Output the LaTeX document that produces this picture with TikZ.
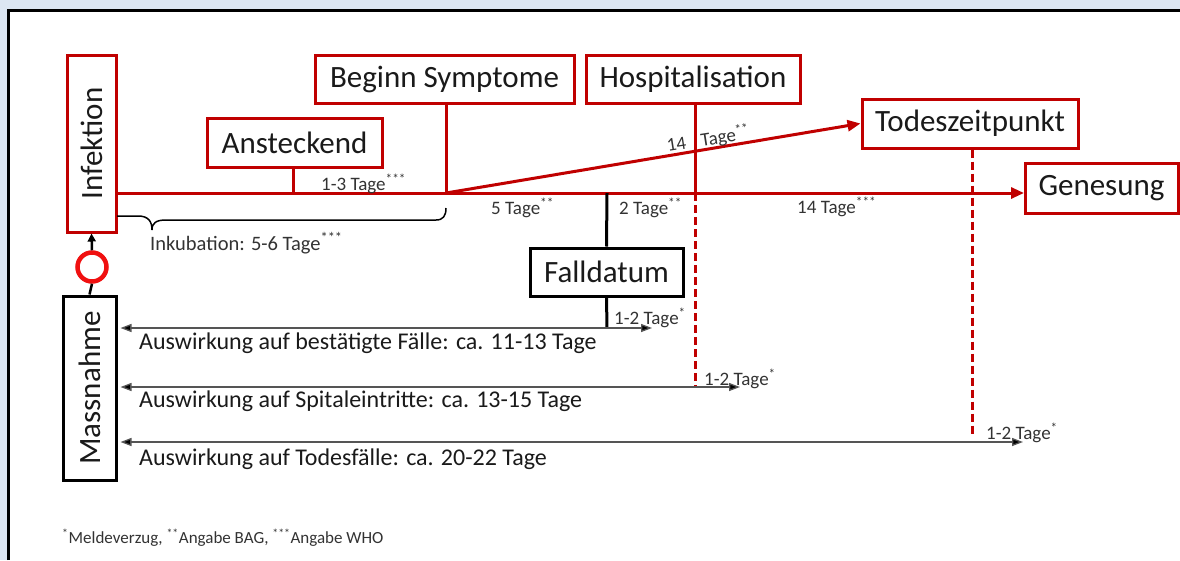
\documentclass[tikz,border=0pt]{standalone}
\usepackage{fontspec}
\setmainfont{Carlito}
\usetikzlibrary{arrows.meta}
\definecolor{dred}{HTML}{C00000}
\definecolor{ringred}{HTML}{F01010}
\definecolor{bgblue}{HTML}{DCE6F2}
\definecolor{txt}{HTML}{1A1A1A}
\definecolor{lbltxt}{HTML}{333333}
\definecolor{thin}{HTML}{555555}
\tikzset{
  redbox/.style={draw=dred, line width=3pt, fill=white, inner sep=0pt, text=txt, font=\fontsize{31}{35}\selectfont},
  blackbox/.style={draw=black, line width=3pt, fill=white, inner sep=0pt, text=txt, font=\fontsize{31}{35}\selectfont},
  lbl/.style={anchor=west, inner sep=0pt, text=lbltxt, font=\fontsize{19}{22}\selectfont},
  efftxt/.style={anchor=west, inner sep=0pt, text=txt, font=\fontsize{24}{28}\selectfont},
  redline/.style={draw=dred, line width=3pt},
  reddash/.style={draw=dred, line width=3pt, dash pattern=on 8pt off 4pt},
  redarrow/.style={draw=dred, line width=3pt, -{Triangle[length=13pt,width=11pt]}},
  thinarrow/.style={draw=thin, line width=1.3pt, {Triangle[length=11pt,width=8pt,fill=black]}-{Triangle[length=11pt,width=8pt,fill=black]}},
}
\begin{document}
\begin{tikzpicture}[x=1pt,y=-1pt]
\useasboundingbox (0,0) rectangle (1180,560);
\fill[bgblue] (0,0) rectangle (1180,560);
\fill[white] (8,10) rectangle (1180,560);
\draw[black, line width=3pt] (8,560) -- (8,10) -- (1180,10);

% boxes
\node[redbox, minimum width=49pt, minimum height=177pt] (Infektion) at (91.5,143.5) {\rotatebox{90}{Infektion}};
\node[blackbox, minimum width=53pt, minimum height=184pt] (Massnahme) at (89.5,388) {\rotatebox{90}{Massnahme}};
\node[redbox, minimum width=175pt, minimum height=49pt] (Ansteckend) at (294.5,142.5) {Ansteckend};
\node[redbox, minimum width=259pt, minimum height=48pt] (Beginn) at (444.5,79) {Beginn Symptome};
\node[redbox, minimum width=214pt, minimum height=48pt] (Hosp) at (693,79) {Hospitalisation};
\node[redbox, minimum width=216pt, minimum height=49pt] (Tod) at (970,123.5) {Todeszeitpunkt};
\node[redbox, minimum width=153pt, minimum height=50pt] (Genesung) at (1101.5,188) {Genesung};
\node[blackbox, minimum width=153pt, minimum height=48pt] (Fall) at (606.5,272) {Falldatum};
\node[draw=ringred, line width=4.5pt, circle, minimum size=29pt, inner sep=0pt] (Ring) at (92,267) {};

% junction coordinates
\coordinate (jAnst) at (293,193);
\coordinate (jBeg) at (446,193);
\coordinate (jFall) at (607,193);
\coordinate (jHosp) at (695,193);
\coordinate (mEnd) at (1024,193);
\coordinate (e1) at (652,328);
\coordinate (e2) at (740,387);
\coordinate (e3) at (1023,442);
\coordinate (dHosp) at (695,387);
\coordinate (dTod) at (972,437);
\coordinate (fEnd) at (607,328);

% ring connections
\draw[black, line width=2.5pt, -{Triangle[length=8pt,width=8pt]}] (Ring.north) -- (Infektion.south);
\draw[black, line width=2.5pt] (Ring.south) -- (Massnahme.north);

% main red line
\draw[redarrow] (Infektion.east |- jAnst) -- (mEnd);
\draw[redline] (Ansteckend.south -| jAnst) -- (jAnst);
\draw[redline] (Beginn.south -| jBeg) -- (jBeg);
\draw[redline] (Hosp.south -| jHosp) -- (jHosp);
\draw[reddash] (jHosp) -- (dHosp);
\draw[reddash] (Tod.south -| dTod) -- (dTod);
\draw[redarrow] (jBeg) -- (Tod.west);

% Falldatum
\draw[black, line width=3pt] (jFall) -- (Fall.north);
\draw[black, line width=3pt] (Fall.south) -- (fEnd);

% brace
\draw[thin, line width=1.5pt] (117,216) -- (138,216) .. controls (148,216) and (152,221) .. (152,230)
  .. controls (152,223) and (156,220) .. (166,220) -- (436,220) .. controls (443,220) and (446,216) .. (446,208);

% thin arrows
\draw[thinarrow, shorten <=3pt] (Massnahme.east |- e1) -- (e1);
\draw[thinarrow, shorten <=3pt] (Massnahme.east |- e2) -- (e2);
\draw[thinarrow, shorten <=3pt] (Massnahme.east |- e3) -- (e3);

% labels
\node[lbl] (l13) at (321,184) {1-3 Tage\textsuperscript{***}};
\node[lbl] (l5) at (491,208) {5 Tage\textsuperscript{**}};
\node[lbl] (l2) at (619,208) {2 Tage\textsuperscript{**}};
\node[lbl] (l14b) at (797,207) {14 Tage\textsuperscript{***}};
\node[lbl, anchor=center, rotate=9] (l14a) at (708,139) {14\hspace{11pt} Tage\textsuperscript{**}};
\node[lbl, font=\fontsize{20.5}{24}\selectfont] (inkub) at (150,243) {Inkubation: 5-6 Tage\textsuperscript{***}};
\node[lbl] (m1) at (614,318) {1-2 Tage\textsuperscript{*}};
\node[lbl] (m2) at (704,379) {1-2 Tage\textsuperscript{*}};
\node[lbl] (m3) at (986,433) {1-2 Tage\textsuperscript{*}};

% effect texts
\node[efftxt] (a1) at (139,343) {Auswirkung auf bestätigte Fälle: ca. 11-13 Tage};
\node[efftxt] (a2) at (139,401) {Auswirkung auf Spitaleintritte: ca. 13-15 Tage};
\node[efftxt] (a3) at (139,459) {Auswirkung auf Todesfälle: ca. 20-22 Tage};

% footnote
\node[lbl, font=\fontsize{17}{20}\selectfont] (foot) at (62,538) {\textsuperscript{*}Meldeverzug, \textsuperscript{**}Angabe BAG, \textsuperscript{***}Angabe WHO};
\end{tikzpicture}
\end{document}
